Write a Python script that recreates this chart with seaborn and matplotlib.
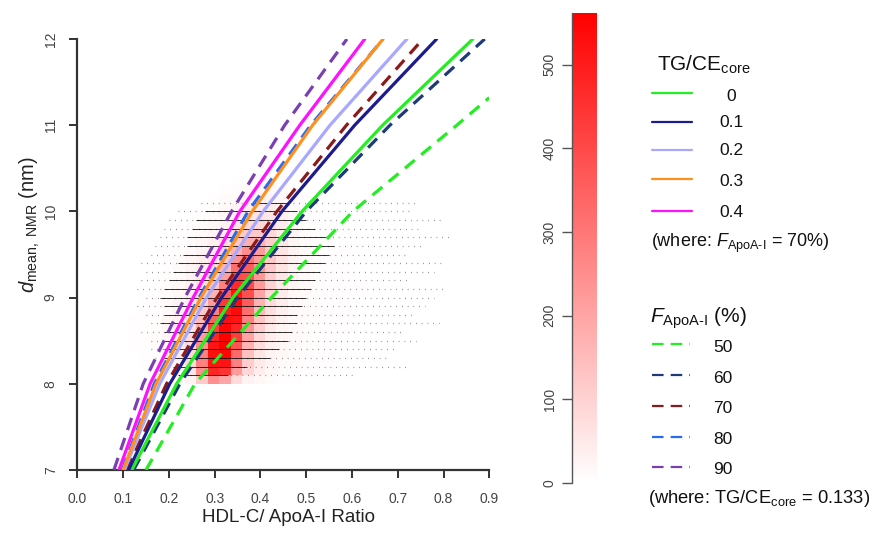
import numpy as np
import matplotlib
matplotlib.use("Agg")
import matplotlib.pyplot as plt
from matplotlib.colors import LinearSegmentedColormap
from matplotlib.lines import Line2D
import seaborn as sns

sns.set_theme(style="white")
plt.rcParams['font.family'] = ['Liberation Sans', 'DejaVu Sans']
plt.rcParams['mathtext.fontset'] = 'custom'
plt.rcParams['mathtext.rm'] = 'Liberation Sans'
plt.rcParams['mathtext.it'] = 'Liberation Sans:italic'

# ---------------------------------------------------------------- model curves
# HDL-C/ApoA-I ratio at which each model reaches the given mean diameter (nm)
d_levels = [7.0, 8.0, 9.0, 10.0, 11.0, 12.0]

tg0 = [0.119, 0.217, 0.340, 0.491, 0.667, 0.864]
tg01 = [0.112, 0.202, 0.315, 0.447, 0.606, 0.785]
tg02 = [0.103, 0.180, 0.282, 0.406, 0.552, 0.720]
tg03 = [0.100, 0.172, 0.270, 0.382, 0.514, 0.668]
tg04 = [0.091, 0.159, 0.253, 0.355, 0.486, 0.628]

fa60 = [0.123, 0.224, 0.350, 0.500, 0.683, 0.890]
fa70 = [0.108, 0.195, 0.305, 0.436, 0.588, 0.755]
fa80 = [0.098, 0.168, 0.266, 0.373, 0.510, 0.668]
fa90 = [0.080, 0.144, 0.235, 0.337, 0.453, 0.589]
# the 50 % curve leaves the plot through the right edge
fa50 = [0.150, 0.257, 0.424, 0.602, 0.829, 0.900]
fa50_d = [7.0, 8.0, 9.0, 10.0, 11.0, 11.32]

tg_labels = ["0", "0.1", "0.2", "0.3", "0.4"]
tg_colors = ["#22EE22", "#1C1C8C", "#A8A8FF", "#FF9020", "#FF10FF"]
fa_labels = ["50", "60", "70", "80", "90"]
fa_colors = ["#22EE22", "#1F3A78", "#8B1A1A", "#2A6AF0", "#7A3FB0"]

# ---------------------------------------------------------------- 2-D histogram of subjects
# counts per cell: ratio bins of 0.025 starting at 0.11, diameter bins of 0.1 nm starting at 8.0
hist_ratio_start = 0.11
hist_d_start = 8.0
hist_counts = [
    #k0 k1  k2  k3  k4  k5   k6   k7   k8   k9  k10  k11  k12 k13 k14 k15 k16 k17 k18 k19 k20 k21
    [0, 0, 0, 5, 10, 30, 120, 250, 200, 80, 30, 20, 10, 5, 5, 0, 0, 0, 0, 0, 0, 0],            # 8.0
    [0, 0, 5, 10, 25, 60, 250, 480, 450, 220, 90, 40, 20, 10, 5, 5, 5, 0, 0, 0, 0, 0],         # 8.1
    [0, 5, 5, 15, 30, 80, 280, 520, 520, 280, 110, 50, 25, 15, 10, 5, 5, 5, 0, 0, 0, 0],       # 8.2
    [0, 5, 5, 20, 40, 90, 280, 530, 550, 330, 140, 60, 30, 20, 10, 8, 5, 5, 0, 0, 0, 0],       # 8.3
    [5, 5, 10, 20, 40, 90, 250, 520, 562, 380, 170, 75, 35, 20, 12, 10, 5, 5, 5, 0, 0, 0],     # 8.4
    [5, 5, 10, 20, 40, 80, 220, 480, 560, 430, 200, 90, 40, 25, 15, 10, 5, 5, 5, 0, 0, 0],     # 8.5
    [5, 5, 10, 20, 40, 70, 180, 420, 550, 480, 240, 110, 50, 25, 15, 10, 5, 5, 5, 5, 0, 0],    # 8.6
    [5, 5, 8, 20, 35, 60, 150, 350, 530, 520, 280, 130, 60, 30, 15, 10, 5, 5, 5, 5, 0, 0],     # 8.7
    [0, 5, 5, 15, 30, 50, 120, 280, 500, 540, 320, 150, 70, 35, 20, 10, 8, 5, 5, 5, 0, 0],     # 8.8
    [0, 5, 5, 15, 25, 45, 100, 220, 440, 540, 360, 170, 80, 40, 20, 12, 8, 5, 5, 5, 0, 0],     # 8.9
    [0, 0, 5, 10, 20, 40, 80, 170, 360, 520, 390, 200, 90, 45, 20, 12, 8, 5, 5, 5, 5, 0],      # 9.0
    [0, 0, 5, 10, 20, 35, 65, 130, 280, 470, 400, 220, 100, 50, 25, 15, 8, 5, 5, 5, 5, 0],     # 9.1
    [0, 0, 5, 8, 15, 30, 55, 100, 210, 400, 390, 230, 110, 55, 25, 15, 8, 5, 5, 5, 0, 0],      # 9.2
    [0, 0, 0, 5, 12, 25, 45, 80, 160, 320, 360, 230, 120, 60, 30, 15, 8, 5, 5, 5, 0, 0],       # 9.3
    [0, 0, 0, 5, 10, 20, 35, 60, 120, 240, 310, 220, 120, 60, 30, 15, 8, 5, 5, 0, 0, 0],       # 9.4
    [0, 0, 0, 5, 8, 15, 25, 45, 90, 170, 250, 220, 120, 60, 30, 15, 8, 5, 5, 0, 0, 0],         # 9.5
    [0, 0, 0, 0, 5, 10, 20, 35, 65, 120, 180, 170, 110, 55, 25, 12, 8, 5, 0, 0, 0, 0],         # 9.6
    [0, 0, 0, 0, 5, 8, 15, 25, 45, 80, 120, 120, 90, 50, 25, 10, 6, 5, 0, 0, 0, 0],            # 9.7
    [0, 0, 0, 0, 0, 5, 10, 20, 30, 55, 85, 90, 75, 45, 20, 10, 5, 0, 0, 0, 0, 0],              # 9.8
    [0, 0, 0, 0, 0, 5, 8, 12, 20, 35, 55, 65, 55, 35, 18, 8, 5, 0, 0, 0, 0, 0],                # 9.9
    [0, 0, 0, 0, 0, 0, 5, 8, 15, 25, 40, 45, 40, 28, 14, 6, 0, 0, 0, 0, 0, 0],                 # 10.0
    [0, 0, 0, 0, 0, 0, 0, 5, 10, 15, 25, 30, 28, 18, 10, 5, 0, 0, 0, 0, 0, 0],                 # 10.1
    [0, 0, 0, 0, 0, 0, 0, 0, 5, 8, 15, 18, 16, 10, 6, 0, 0, 0, 0, 0, 0, 0],                    # 10.2
    [0, 0, 0, 0, 0, 0, 0, 0, 0, 5, 8, 10, 9, 5, 0, 0, 0, 0, 0, 0, 0, 0],                       # 10.3
]
count_max = 562

# ---------------------------------------------------------------- raw measurements (NMR sizes come in 0.1 nm steps)
row_d = [8.1, 8.2, 8.3, 8.4, 8.5, 8.6, 8.7, 8.8, 8.9, 9.0, 9.1,
         9.2, 9.3, 9.4, 9.5, 9.6, 9.7, 9.8, 9.9, 10.0, 10.1]
dense_lo = [0.22, 0.21, 0.19, 0.19, 0.19, 0.19, 0.18, 0.19, 0.19, 0.18, 0.19,
            0.20, 0.21, 0.22, 0.23, 0.24, 0.24, 0.25, 0.26, 0.28, 0.38]
dense_hi = [0.33, 0.37, 0.42, 0.44, 0.46, 0.47, 0.48, 0.48, 0.49, 0.50, 0.51,
            0.52, 0.53, 0.54, 0.55, 0.56, 0.55, 0.52, 0.50, 0.48, 0.46]
spread_lo = [0.21, 0.20, 0.17, 0.16, 0.16, 0.14, 0.16, 0.15, 0.13, 0.15, 0.13,
             0.14, 0.15, 0.14, 0.16, 0.17, 0.18, 0.19, 0.20, 0.22, 0.27]
spread_hi = [0.60, 0.72, 0.68, 0.70, 0.74, 0.71, 0.79, 0.74, 0.76, 0.78, 0.80,
             0.72, 0.78, 0.80, 0.72, 0.75, 0.82, 0.75, 0.80, 0.73, 0.74]

# ---------------------------------------------------------------- figure
W, H = 872, 535
fig = plt.figure(figsize=(W / 100, H / 100), dpi=100)


def fx(px):
    return px / W


def fy(py):
    return 1 - py / H


ax = fig.add_axes([fx(77.3), fy(470), fx(489.3) - fx(77.3), fy(39) - fy(470)])
cax = fig.add_axes([fx(572), fy(483), fx(597) - fx(572), fy(13) - fy(483)])

cmap = LinearSegmentedColormap.from_list("white_red", ["#FFFFFF", "#FF0000"])

counts = np.array(hist_counts, dtype=float)
n_d, n_r = counts.shape
rc = hist_ratio_start + 0.025 * (np.arange(n_r) + 0.5)
dc = hist_d_start + 0.1 * (np.arange(n_d) + 0.5)
RR, DD = np.meshgrid(rc, dc)
sns.histplot(x=RR.ravel(), y=DD.ravel(), weights=counts.ravel(),
             binwidth=(0.025, 0.1),
             binrange=((hist_ratio_start, hist_ratio_start + 0.025 * n_r),
                       (hist_d_start, hist_d_start + 0.1 * n_d)),
             cmap=cmap, vmin=0, vmax=count_max, cbar=True, cbar_ax=cax,
             ax=ax, zorder=1)

# individual measurements
ax.hlines(row_d, spread_lo, spread_hi, colors="black", linewidth=0.9,
          linestyles=[(0, (0.6, 4.0))], alpha=0.55, zorder=2)
ax.hlines(row_d, dense_lo, dense_hi, colors="black", linewidth=0.7,
          alpha=0.8, zorder=2)

# model curves
solid_curves = [tg0, tg01, tg02, tg03, tg04]
for xs, col in zip(solid_curves, tg_colors):
    sns.lineplot(x=xs, y=d_levels, sort=False, estimator=None, color=col,
                 linewidth=2.3, ax=ax, zorder=4)
dash_curves = [(fa50, fa50_d), (fa60, d_levels), (fa70, d_levels),
               (fa80, d_levels), (fa90, d_levels)]
for (xs, ys), col in zip(dash_curves, fa_colors):
    sns.lineplot(x=xs, y=ys, sort=False, estimator=None, color=col,
                 linewidth=2.3, linestyle=(0, (4.0, 2.6)), ax=ax, zorder=3)

ax.set_xlim(0, 0.9)
ax.set_ylim(7, 12)
ax.set_xticks(np.arange(0, 0.91, 0.1))
ax.set_xticklabels([f"{v:.1f}" for v in np.arange(0, 0.91, 0.1)])
ax.set_yticks(range(7, 13))
ax.set_xlabel("")
ax.set_ylabel("")
for side in ["top", "right"]:
    ax.spines[side].set_visible(False)
for side in ["left", "bottom"]:
    ax.spines[side].set_color("#333333")
    ax.spines[side].set_linewidth(1.6)
ax.tick_params(axis="both", direction="out", length=6, width=1.4,
               color="#333333", labelsize=10, labelcolor="#444444",
               left=True, bottom=True)
ax.tick_params(axis="x", pad=9.5)
ax.tick_params(axis="y", pad=8)
for lab in ax.get_yticklabels():
    lab.set_rotation(90)
    lab.set_va("center")

fig.text(fx(289), fy(518), "HDL-C/ ApoA-I Ratio", ha="center", va="center",
         fontsize=13.5, color="#222222")
fig.text(fx(30), fy(224.5), r"$d_{\mathrm{mean,\ NMR}}$ (nm)", ha="center",
         va="center", rotation=90, fontsize=14.5, color="#222222")

# colour bar
for sp in cax.spines.values():
    sp.set_visible(False)
cax.set_ylim(0, count_max)
cax.set_yticks([0, 100, 200, 300, 400, 500])
cax.yaxis.set_ticks_position("left")
cax.tick_params(axis="y", direction="out", length=7, width=1.0,
                color="#555555", labelsize=10, labelcolor="#444444", pad=4,
                left=True, right=False, labelleft=True, labelright=False)
for lab in cax.get_yticklabels():
    lab.set_rotation(90)
    lab.set_va("center")
cax.add_line(Line2D([0, 0], [0, count_max], color="#555555", lw=1.0,
                    clip_on=False))

# legends
fig.text(fx(657), fy(70.7), r"TG/CE$_{\mathrm{core}}$", fontsize=15,
         va="baseline", ha="left", color="#111111")
tg_line_y = [93, 122, 150, 179, 211]
tg_text_y = [100.7, 127, 155, 186, 217]
for lab, col, ly, ty in zip(tg_labels, tg_colors, tg_line_y, tg_text_y):
    fig.add_artist(Line2D([fx(652), fx(692)], [fy(ly), fy(ly)], color=col,
                          lw=1.6))
    fig.text(fx(731), fy(ty), lab, fontsize=12.5, ha="center",
             va="baseline", color="#111111")
fig.text(fx(651), fy(247), r"(where: $F_{\text{ApoA-I}}$ = 70%)",
         fontsize=13, ha="left", va="baseline", color="#111111")

fig.text(fx(650), fy(323), r"$F_{\text{ApoA-I}}$ (%)", fontsize=15,
         ha="left", va="baseline", color="#111111")
fa_line_y = [344, 375, 406, 437, 467]
fa_text_y = [352, 383, 413, 444, 474]
for lab, col, ly, ty in zip(fa_labels, fa_colors, fa_line_y, fa_text_y):
    fig.add_artist(Line2D([fx(652), fx(690)], [fy(ly), fy(ly)], color=col,
                          lw=1.6, linestyle=(0, (5.2, 3.2))))
    fig.text(fx(713), fy(ty), lab, fontsize=12.5, ha="left",
             va="baseline", color="#111111")
fig.text(fx(648), fy(503), r"(where: TG/CE$_{\mathrm{core}}$ = 0.133)",
         fontsize=13.2, ha="left", va="baseline", color="#111111")

fig.savefig("out.png", dpi=100)
